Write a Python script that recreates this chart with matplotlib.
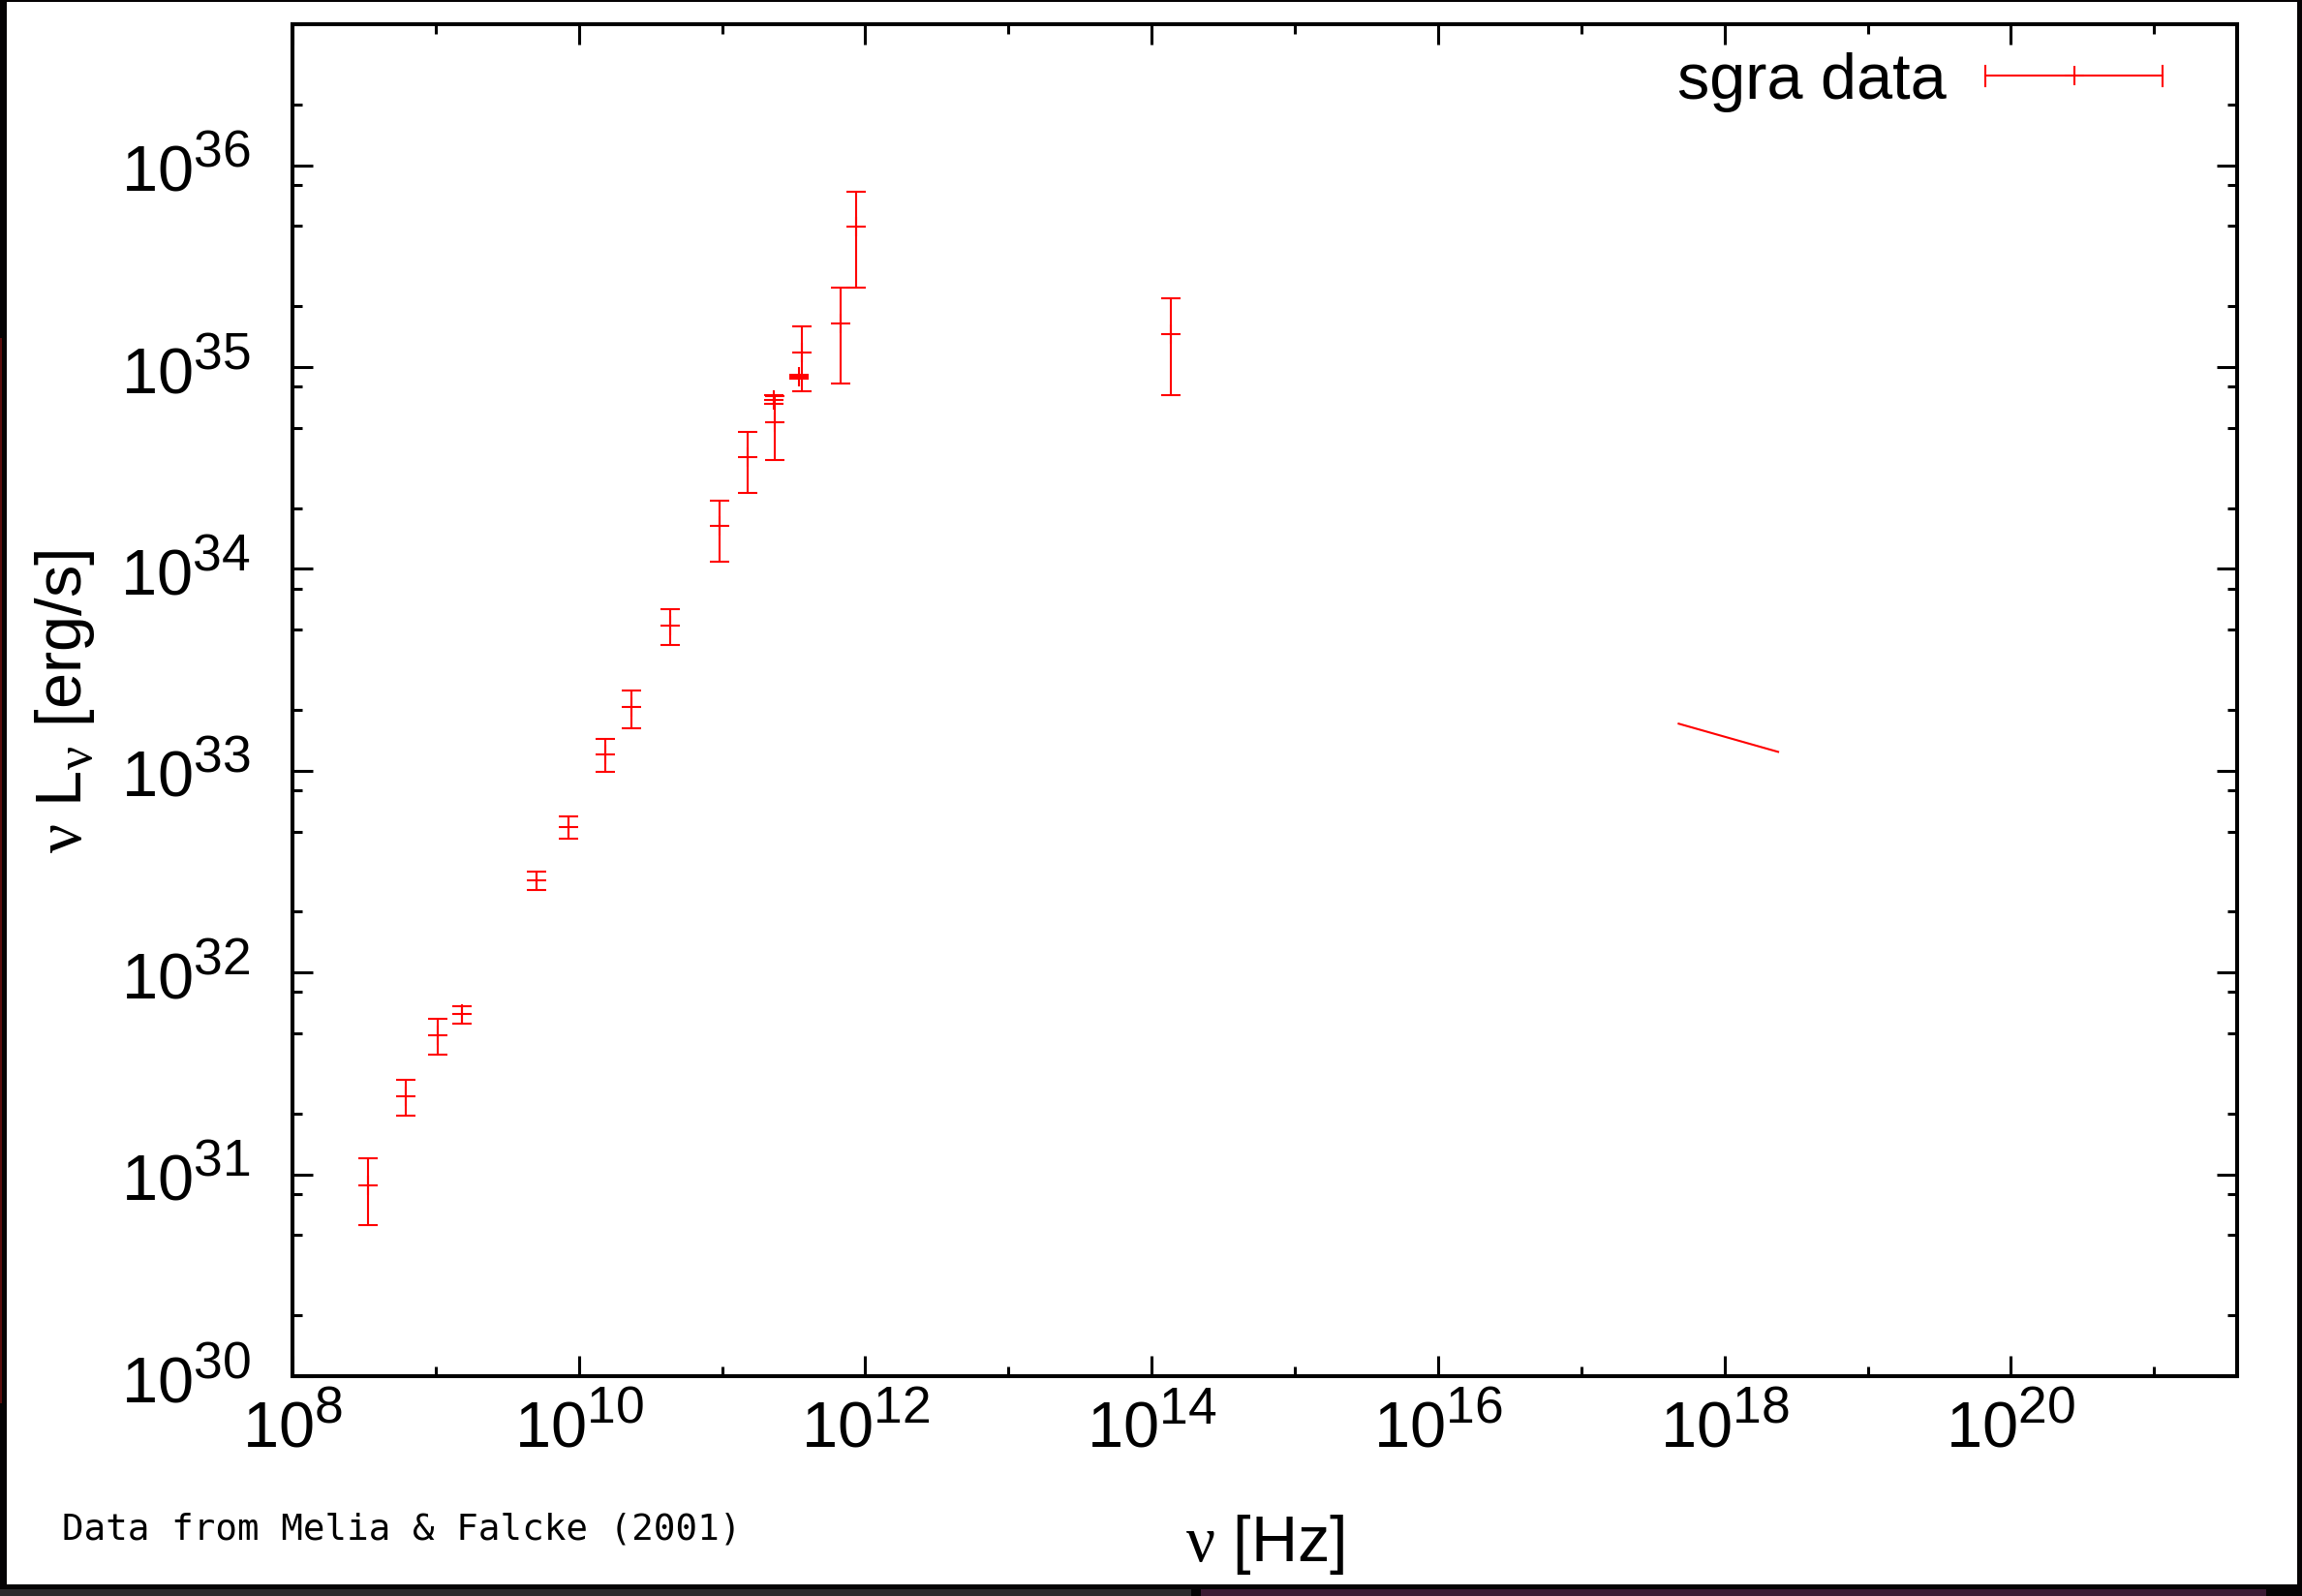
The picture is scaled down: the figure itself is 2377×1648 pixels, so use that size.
import matplotlib
matplotlib.use("Agg")
import matplotlib.pyplot as plt
import matplotlib._mathtext as mathtext_impl
from matplotlib.patches import Rectangle
from matplotlib.lines import Line2D
from matplotlib.legend_handler import HandlerBase
from matplotlib.ticker import FixedLocator, LogFormatterSciNotation, NullFormatter

plt.rcParams["font.family"] = ["Liberation Sans", "DejaVu Sans"]
plt.rcParams["mathtext.fontset"] = "custom"
plt.rcParams["mathtext.rm"] = "Liberation Sans"
plt.rcParams["mathtext.sf"] = "Liberation Serif"
# slightly larger exponents than the mathtext default
mathtext_impl.SHRINK_FACTOR = 0.8

# Sgr A* spectrum: frequency [Hz], nu L_nu [erg/s] and its error
nu_hz = [3.38e8, 6.2e8, 1.03e9, 1.53e9, 5.07e9, 8.47e9, 1.52e10, 2.34e10,
         4.37e10, 9.6e10, 1.52e11, 2.29e11, 2.33e11, 3.47e11, 3.62e11,
         6.74e11, 8.65e11, 1.36e14]
nu_lnu = [8.8e30, 2.44e31, 4.9e31, 6.2e31, 2.86e32, 5.26e32, 1.21e33, 2.06e33,
          5.26e33, 1.63e34, 3.58e34, 6.9e34, 5.33e34, 8.95e34, 1.18e35,
          1.65e35, 4.94e35, 1.46e35]
nu_lnu_err = [3.2e30, 0.49e31, 0.98e31, 0.63e31, 0.30e32, 0.67e32, 0.22e33,
              0.44e33, 1.05e33, 0.54e34, 1.2e34, 3.3e33, 1.85e34, 1.8e33,
              0.42e35, 0.82e35, 2.47e35, 0.73e35]

# X-ray power law, end points
xray_nu = [4.79e17, 2.37e18]
xray_lum = [1.71e33, 1.24e33]

x_major_exp = [8, 10, 12, 14, 16, 18, 20]
x_minor_exp = [9, 11, 13, 15, 17, 19, 21]
y_major_exp = [30, 31, 32, 33, 34, 35, 36]
y_minor_mult = [2, 5, 8]

W, H = 2377, 1649
fig = plt.figure(figsize=(W / 100, H / 100), dpi=100, facecolor="#050304")


def px_rect(x0, y0, x1, y1, color):
    # rectangle given in pixels from the top-left corner
    fig.add_artist(Rectangle((x0 / W, 1 - y1 / H), (x1 - x0) / W, (y1 - y0) / H,
                             transform=fig.transFigure, facecolor=color,
                             edgecolor="none", zorder=-10))


px_rect(0, 1642, 1230, H, "#2b2a2c")
px_rect(1240, 1642, 2340, H, "#3b1a33")
px_rect(0, 350, 2, 1450, "#5a0c0c")
px_rect(7, 3, 2372, 1637, "white")

ax = fig.add_axes([302 / W, 1 - 1422 / H, 2008 / W, 1396 / H])
ax.set_xscale("log")
ax.set_yscale("log")
ax.set_xlim(1e8, 10 ** 21.58)
ax.set_ylim(1e30, 5e36)

eb = ax.errorbar(nu_hz, nu_lnu, yerr=nu_lnu_err, fmt="+", color="red",
                 ms=15, mew=1.5, elinewidth=1.5, capsize=7.5, capthick=1.5,
                 label="sgra data")
ax.plot(xray_nu, xray_lum, color="red", lw=1.5)

ax.xaxis.set_major_locator(FixedLocator([10.0 ** e for e in x_major_exp]))
ax.xaxis.set_minor_locator(FixedLocator([10.0 ** e for e in x_minor_exp]))
ax.yaxis.set_major_locator(FixedLocator([10.0 ** e for e in y_major_exp]))
ax.yaxis.set_minor_locator(FixedLocator(
    [m * 10.0 ** e for e in range(29, 37) for m in y_minor_mult]))
ax.xaxis.set_major_formatter(LogFormatterSciNotation())
ax.yaxis.set_major_formatter(LogFormatterSciNotation())
ax.xaxis.set_minor_formatter(NullFormatter())
ax.yaxis.set_minor_formatter(NullFormatter())

ax.tick_params(which="both", direction="in", top=True, right=True,
               width=2.2, labelsize=48)
ax.tick_params(which="major", length=15)
ax.tick_params(which="minor", length=7.2)
ax.tick_params(axis="x", pad=15)
ax.tick_params(axis="y", pad=31)
for s in ax.spines.values():
    s.set_linewidth(2.9)

ax.set_xlabel(r"$\mathsf{\nu}$ [Hz]", fontsize=48)
ax.xaxis.set_label_coords(0.5, -0.1003)
ax.set_ylabel(r"$\mathsf{\nu}$ L$_{\mathsf{\nu}}$ [erg/s]", fontsize=48)
ax.yaxis.set_label_coords(-0.1006, 0.5)


class ErrorbarKey(HandlerBase):
    # horizontal bar with end caps and a '+' in the middle
    def create_artists(self, legend, orig_handle, xdescent, ydescent,
                       width, height, fontsize, trans):
        y = height / 2 - ydescent
        x0, x1 = -xdescent, width - xdescent
        half = 7.5
        arts = [Line2D([x0, x1], [y, y], color="red", lw=1.5)]
        for xc in (x0, x1):
            arts.append(Line2D([xc, xc], [y - half, y + half], color="red", lw=1.5))
        arts.append(Line2D([(x0 + x1) / 2], [y], marker="+", ms=15, mew=1.5,
                           color="red", ls="none"))
        for a in arts:
            a.set_transform(trans)
        return arts


ax.legend(handles=[eb], labels=["sgra data"], loc="upper right",
          bbox_to_anchor=(0.9616, 0.9796), frameon=False, markerfirst=False,
          handlelength=2.74, handletextpad=0.61, borderpad=0, borderaxespad=0,
          fontsize=48, handler_map={type(eb): ErrorbarKey()})

fig.text(64 / W, 1 - 1590 / H, "Data from Melia & Falcke (2001)",
         family="DejaVu Sans Mono", fontsize=27, va="baseline")

fig.savefig("out.png", dpi=100, facecolor=fig.get_facecolor())
